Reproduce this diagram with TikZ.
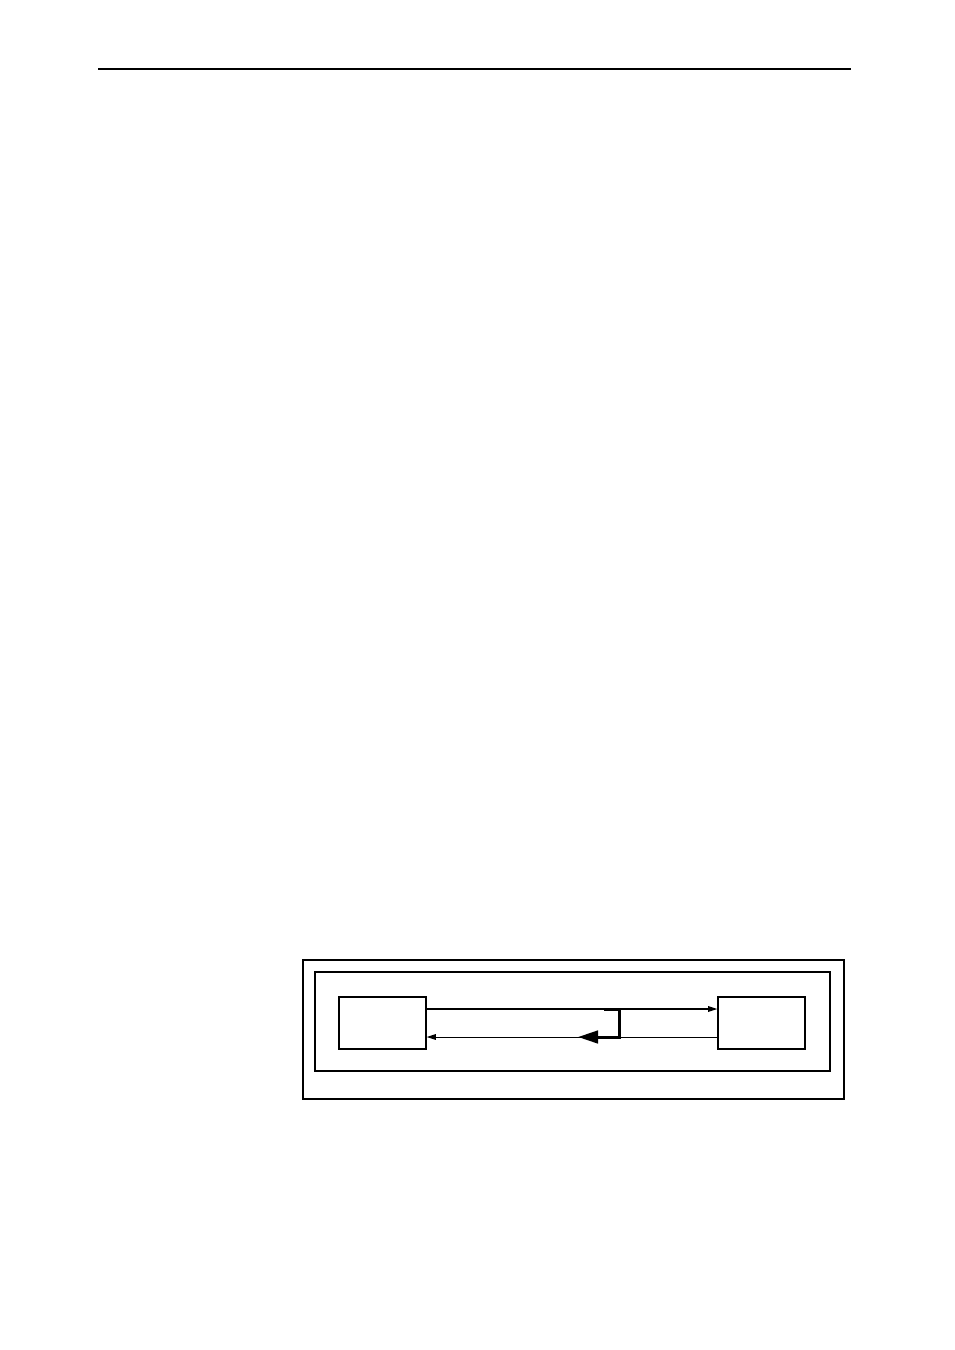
\documentclass[tikz,border=0pt]{standalone}
\usepackage{amsmath, amssymb}
\usetikzlibrary{arrows.meta}

\begin{document}
\begin{tikzpicture}[x=0.6pt,y=-0.6pt]
\tikzstyle{frame} = [rectangle, draw, line width=0.8pt, inner sep=0pt]
\tikzstyle{box} = [rectangle, draw, line width=0.8pt, minimum width=52.2pt, minimum height=31.2pt, inner sep=0pt]
\tikzstyle{wire} = [line width=0.7pt]
\useasboundingbox (0,0) rectangle (954,1350);
\draw [line width=1.3pt] (98,69) -- (851,69);
\node [frame, minimum width=324.6pt, minimum height=83.4pt] (frame0) at (573.5,1029.5) {};
\node [frame, minimum width=309pt, minimum height=59.4pt] (frame1) at (572.5,1021.5) {};
\node [box] (box0) at (382.5,1023) {};
\node [box] (box1) at (761.5,1023) {};
\coordinate (tap0) at (604,1009);
\coordinate (tap1) at (578,1037);
\path ([yshift=8.4pt]box0.east) edge [wire,-{Triangle[length=5.5pt,width=3.4pt]}] ([yshift=8.4pt]box1.west);
\path ([yshift=-8.4pt]box1.west) edge [line width=0.6pt,-{Triangle[length=5.5pt,width=3.4pt]}] ([yshift=-8.4pt]box0.east);
\draw [line width=1.8pt,-{Triangle[length=12pt,width=7.5pt]}] (tap0) -| (619,1037) -- (tap1);
\end{tikzpicture}
\end{document}
